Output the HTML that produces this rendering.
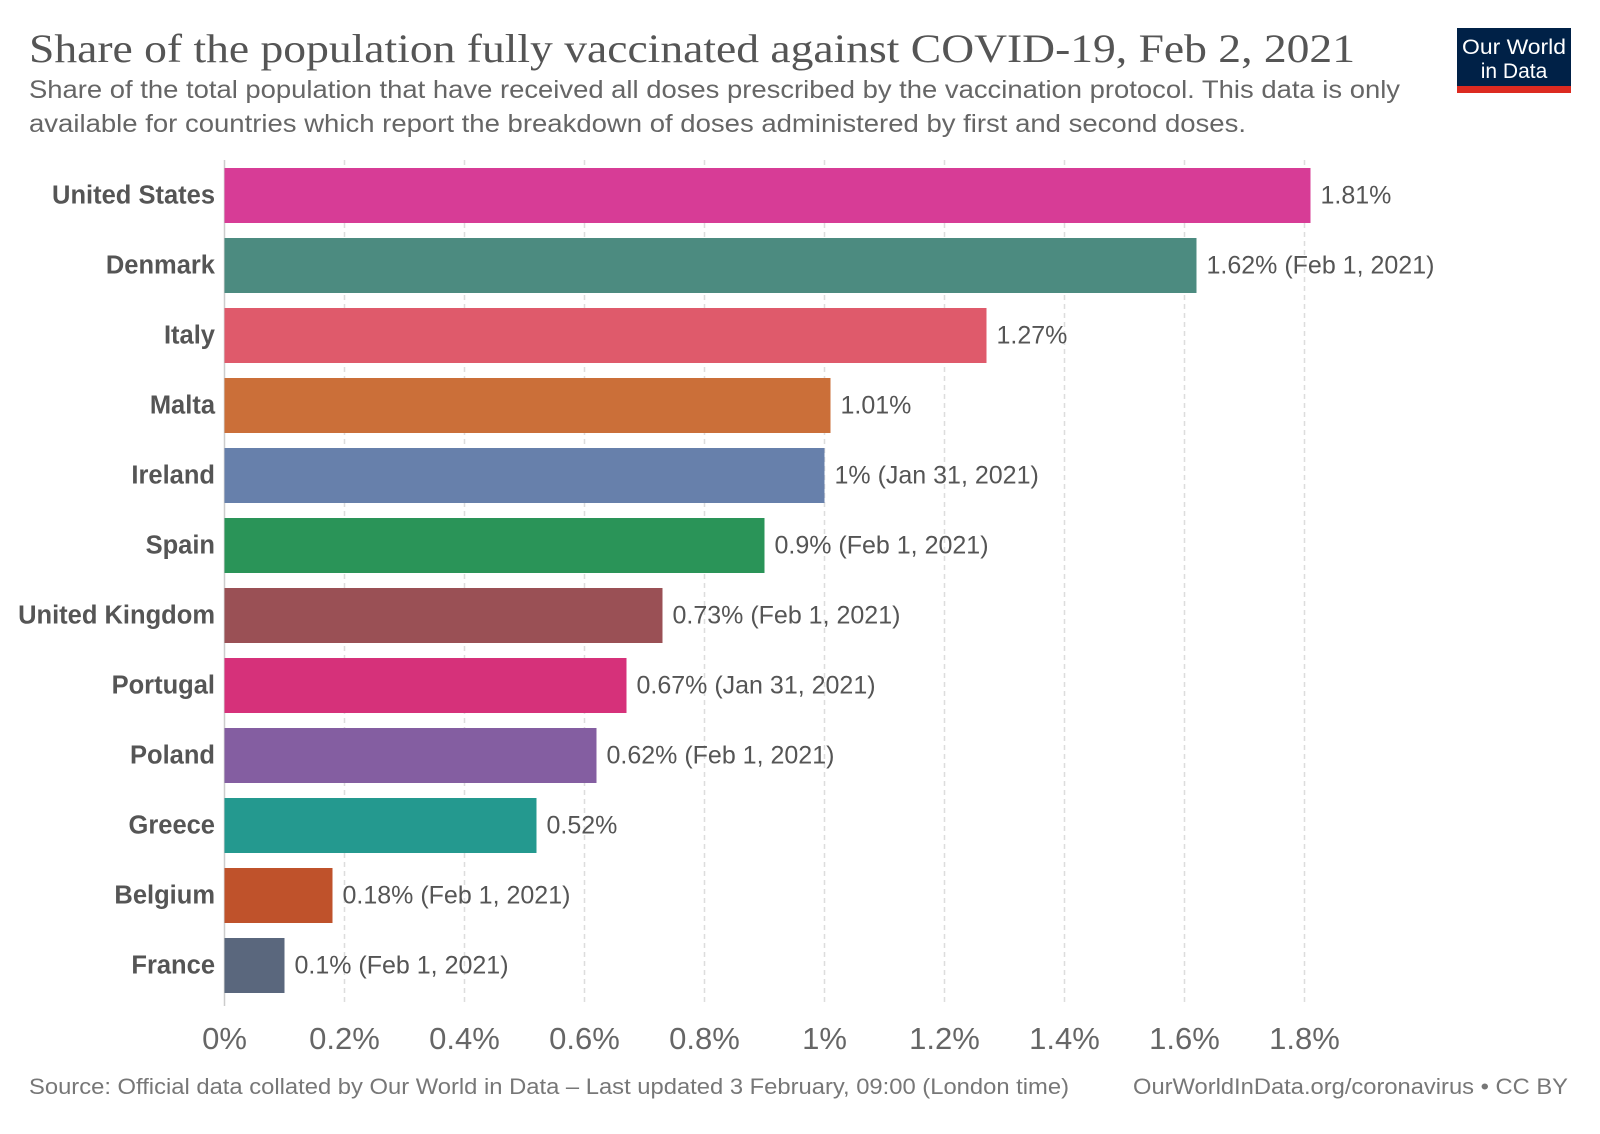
<!DOCTYPE html>
<html><head><meta charset="utf-8"><style>
body{margin:0;background:#fff;width:1600px;height:1129px;overflow:hidden;font-family:"Liberation Sans",sans-serif}
</style></head><body>
<svg width="1600" height="1129" id="svg">
<text x="29" y="62" font-family="Liberation Serif,serif" font-size="40" fill="#555" textLength="1326" lengthAdjust="spacingAndGlyphs">Share of the population fully vaccinated against COVID-19, Feb 2, 2021</text>
<text x="29" y="98" font-size="25" fill="#666" textLength="1371" lengthAdjust="spacingAndGlyphs">Share of the total population that have received all doses prescribed by the vaccination protocol. This data is only</text>
<text x="29" y="132" font-size="25" fill="#666" textLength="1217" lengthAdjust="spacingAndGlyphs">available for countries which report the breakdown of doses administered by first and second doses.</text>
<g>
<rect x="1457" y="28" width="114" height="65" fill="#002147"/>
<rect x="1457" y="86" width="114" height="7" fill="#dc2a20"/>
<text x="1514" y="54" font-size="21" fill="#fff" text-anchor="middle" textLength="104" lengthAdjust="spacingAndGlyphs">Our World</text>
<text x="1514" y="78" font-size="21" fill="#fff" text-anchor="middle">in Data</text>
</g>
<g id="grid"></g><g id="bars"></g><g id="ticks"></g>
<text x="29" y="1094" font-size="22" fill="#777" textLength="1040" lengthAdjust="spacingAndGlyphs">Source: Official data collated by Our World in Data – Last updated 3 February, 09:00 (London time)</text>
<text x="1568" y="1094" font-size="22" fill="#777" text-anchor="end" textLength="435" lengthAdjust="spacingAndGlyphs">OurWorldInData.org/coronavirus • CC BY</text>
</svg>
<script>
const countries=["United States","Denmark","Italy","Malta","Ireland","Spain","United Kingdom","Portugal","Poland","Greece","Belgium","France"];
const values=[1.81,1.62,1.27,1.01,1.0,0.9,0.73,0.67,0.62,0.52,0.18,0.1];
const valueLabels=["1.81%","1.62% (Feb 1, 2021)","1.27%","1.01%","1% (Jan 31, 2021)","0.9% (Feb 1, 2021)","0.73% (Feb 1, 2021)","0.67% (Jan 31, 2021)","0.62% (Feb 1, 2021)","0.52%","0.18% (Feb 1, 2021)","0.1% (Feb 1, 2021)"];
const colors=["#d73c96","#4c8b80","#df5a6b","#cb6f39","#6780ab","#2a9458","#9a5055","#d6317a","#845ea1","#24998f","#bf522b","#5a677d"];
const ticks=[0,0.2,0.4,0.6,0.8,1,1.2,1.4,1.6,1.8];
const tickLabels=["0%","0.2%","0.4%","0.6%","0.8%","1%","1.2%","1.4%","1.6%","1.8%"];
const NS="http://www.w3.org/2000/svg";
const x=v=>224.5+v*600;
const y=i=>168+i*70;
const BH=55;
function mk(t,a,p){const e=document.createElementNS(NS,t);for(const k in a)e.setAttribute(k,a[k]);p.appendChild(e);return e;}
const G=document.getElementById('grid'),B=document.getElementById('bars'),T=document.getElementById('ticks');
ticks.forEach((t,i)=>{
 const l=mk('line',{x1:x(t),x2:x(t),y1:160,y2:1006,stroke:i==0?'#ccc':'#ddd','stroke-width':1.5,'stroke-dasharray':i==0?'':'5,4'},G);
 
 
 const tx=mk('text',{x:x(t),y:1049,'font-size':31,fill:'#666','text-anchor':'middle'},T);tx.textContent=tickLabels[i];
 
 
});
countries.forEach((c,i)=>{
 const r=mk('rect',{x:x(0),y:y(i),width:x(values[i])-x(0),height:BH,fill:colors[i]},B);
 
 
 const n=mk('text',{x:215,y:y(i)+BH/2+8,'font-size':25.5,'font-weight':'bold',fill:'#555','text-anchor':'end'},B);n.textContent=c;
 
 
 const v=mk('text',{x:x(values[i])+10,y:y(i)+BH/2+8,'font-size':25,fill:'#555'},B);v.textContent=valueLabels[i];
 
 
});
</script>
</body></html>
